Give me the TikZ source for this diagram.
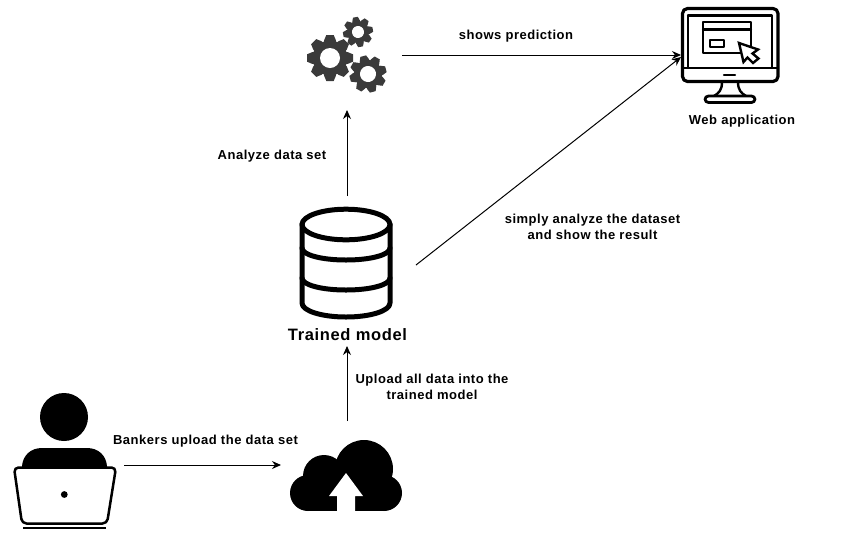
\documentclass[tikz,border=0pt]{standalone}
\usepackage{fontspec}
\setmainfont{Liberation Sans}
\usetikzlibrary{arrows.meta}
\tikzset{
  lbl/.style={font=\fontsize{13}{16}\selectfont\bfseries\addfontfeatures{LetterSpace=4},align=center,inner sep=0pt,text=black},
  conn/.style={draw=black,line width=1pt,-{Stealth[length=9pt,width=8pt]}},
  icon/.style={draw=black,line join=round,line cap=round},
}
\definecolor{gearc}{HTML}{3A3A3A}
\newcommand{\gearicon}[6]{% x y outer root hole rotation
  \begin{scope}[shift={(#1,#2)},rotate=#6]
    \fill[gearc] (0,0) circle ({#4*1pt});
    \foreach \a in {0,45,...,315}{
      \fill[gearc,rotate=\a] (-{#3*0.26},{-#4*0.2}) -- (-{#3*0.26},{-#4}) -- (-{#3*0.16},{-#3}) -- ({#3*0.16},{-#3}) -- ({#3*0.26},{-#4}) -- ({#3*0.26},{-#4*0.2}) -- cycle;
    }
    \fill[white] (0,0) circle ({#5*1pt});
  \end{scope}}
\begin{document}
\begin{tikzpicture}[x=1pt,y=-1pt]
\useasboundingbox[fill=white] (0,0) rectangle (845,542);
% gears
\gearicon{330}{58}{23}{17.5}{10}{0}
\gearicon{358}{32}{15}{11}{6}{10}
\gearicon{368}{74}{18.5}{14}{8}{15}
\coordinate (gearsout) at (402,55);
\coordinate (gearsin) at (347,110);
% monitor
\begin{scope}[icon,line width=3.2pt]
  \draw[rounded corners=5pt] (682.5,8.5) rectangle (778,81.5);
  \draw[line width=2.4pt] (688,15.5) -- (772,15.5) -- (772,68);
  \draw[line width=2.4pt] (688,15.5) -- (688,68);
  \draw[line width=2.4pt] (682,68) -- (778,68);
  \draw[line width=2.6pt] (703,22) rectangle (751,53);
  \draw[line width=2.2pt] (703,29.5) -- (751,29.5);
  \draw[line width=2pt,line cap=butt] (710,39.5) rectangle (724,47);
  \draw[line width=2.2pt] (724,75) -- (735,75);
  \draw[line width=2.4pt] (722,82) .. controls (722,90) and (719,93) .. (714,96);
  \draw[line width=2.4pt] (738,82) .. controls (738,90) and (741,93) .. (746,96);
  \draw[line width=2.8pt,rounded corners=3.5pt] (705,96) rectangle (755,102.5);
  \draw[line width=2.4pt,fill=white,line join=miter] (739,43) -- (758,49.5) -- (752.5,53.5) -- (758.5,58.5) -- (753,63) -- (747.5,57.5) -- (743.5,62) -- cycle;
\end{scope}
\coordinate (webin) at (681,55);
\coordinate (webin2) at (681,57);
% database
\begin{scope}[icon,line width=5pt]
  \draw (346,224.5) ellipse (44pt and 15.3pt);
  \draw (302,224) -- (302,303) .. controls (302,311) and (322,317) .. (346,317) .. controls (370,317) and (390,311) .. (390,303) -- (390,224);
  \draw (302,248) .. controls (302,255) and (322,260) .. (346,260) .. controls (370,260) and (390,255) .. (390,248);
  \draw (302,278) .. controls (302,285) and (322,290) .. (346,290) .. controls (370,290) and (390,285) .. (390,278);
\end{scope}
\coordinate (dbtop) at (347,196);
\coordinate (dbright) at (416,265);
\node[font=\fontsize{16.5}{18}\selectfont\bfseries\addfontfeatures{LetterSpace=4},inner sep=0pt] (dbname) at (347.5,335) {Trained model};
% person and laptop
\fill (64,417) circle (24pt);
\fill (22,467) -- (22,466) .. controls (23,455) and (31,448) .. (42,448) -- (87,448) .. controls (98,448) and (106,455) .. (107,466) -- (107,467) -- cycle;
\draw[icon,line width=2.5pt,fill=white,rounded corners=4.5pt] (14,467.5) -- (116,467.5) -- (107,523.5) -- (22,523.5) -- cycle;
\fill (64.3,494.5) circle (3.4pt);
\draw[line width=2.5pt] (23,528) -- (106,528);
\coordinate (userout) at (124,465);
% cloud
\fill (364,469) circle (29pt);
\fill (324,476) circle (21pt);
\fill (308,493) circle (18pt);
\fill (384,493) circle (18pt);
\fill (308,480) rectangle (384,511);
\fill (330,462) rectangle (345,480);
\fill[white] (346,473) -- (363,496) -- (355,496) -- (355,512) -- (337,512) -- (337,496) -- (329,496) -- cycle;
\coordinate (cloudin) at (281,465);
\coordinate (cloudout) at (347,421);
\coordinate (dbbottom) at (347,346);
% connectors
\draw[conn] (userout) -- (cloudin);
\draw[conn] (cloudout) -- (dbbottom);
\draw[conn] (dbtop) -- (gearsin);
\draw[conn] (gearsout) -- (webin);
\draw[conn] (dbright) -- (webin2);
% labels
\node[lbl] (l1) at (516,36) {shows prediction};
\node[lbl] (l2) at (742,121) {Web application};
\node[lbl] (l3) at (272,156) {Analyze data set};
\node[lbl] (l4) at (592.5,227) {simply analyze the dataset\\and show the result};
\node[lbl] (l5) at (432,387) {Upload all data into the\\trained model};
\node[lbl] (l6) at (205.5,441) {Bankers upload the data set};
\end{tikzpicture}
\end{document}
